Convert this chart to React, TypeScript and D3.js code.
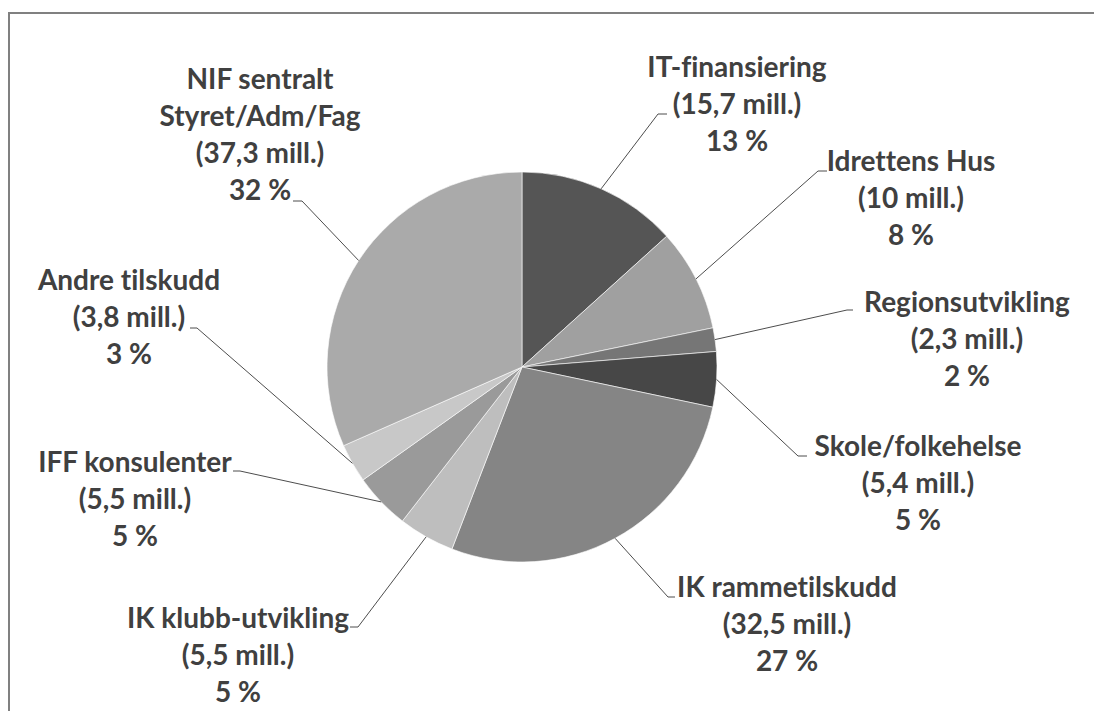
import React from "react";
import * as d3 from "d3";

// ---- data ----
const categories = [
  "IT-finansiering",
  "Idrettens Hus",
  "Regionsutvikling",
  "Skole/folkehelse",
  "IK rammetilskudd",
  "IK klubb-utvikling",
  "IFF konsulenter",
  "Andre tilskudd",
  "NIF sentralt Styret/Adm/Fag",
];
const nameLines = [
  ["IT-finansiering"],
  ["Idrettens Hus"],
  ["Regionsutvikling"],
  ["Skole/folkehelse"],
  ["IK rammetilskudd"],
  ["IK klubb-utvikling"],
  ["IFF konsulenter"],
  ["Andre tilskudd"],
  ["NIF sentralt", "Styret/Adm/Fag"],
];
const valuesMill = [15.7, 10, 2.3, 5.4, 32.5, 5.5, 5.5, 3.8, 37.3];
const valueLabels = ["15,7", "10", "2,3", "5,4", "32,5", "5,5", "5,5", "3,8", "37,3"];
const percentLabels = ["13 %", "8 %", "2 %", "5 %", "27 %", "5 %", "5 %", "3 %", "32 %"];

// ---- styling / layout ----
const sliceColors = ["#555555", "#a0a0a0", "#767676", "#474747", "#858585", "#bebebe", "#9a9a9a", "#c8c8c8", "#aaaaaa"];
// label text centre x, first baseline y
const labelPos: [number, number][] = [
  [737, 77],
  [911, 171],
  [967, 312],
  [918, 456],
  [787, 597],
  [238, 628],
  [135, 472],
  [129, 290],
  [260, 89],
];
// leader elbow point and end point
const leaderPts: [number, number, number, number][] = [
  [658, 114, 667, 114],
  [818, 171, 827, 171],
  [847, 310, 853, 310],
  [798, 456, 807, 456],
  [668, 597, 675, 597],
  [358, 627, 350, 627],
  [240, 471, 233, 471],
  [197, 328, 190, 328],
  [302, 201, 293, 201],
];

const W = 1094;
const H = 711;
const CX = 522;
const CY = 367;
const R = 195;
const LINE_H = 37;

export default function App() {
  const data = valuesMill.map((v, i) => ({ v, i }));
  const pie = d3.pie<{ v: number; i: number }>().sort(null).value((d) => d.v).startAngle(0).endAngle(2 * Math.PI);
  const arcs = pie(data);
  const arcGen = d3.arc<d3.PieArcDatum<{ v: number; i: number }>>().innerRadius(0).outerRadius(R);

  return (
    <svg
      width={W}
      height={H}
      style={{ position: "absolute", left: 0, top: 0, display: "block", background: "#fff" }}
    >
      <rect x={9} y={13} width={W + 20} height={H + 20} fill="#fff" stroke="#808080" strokeWidth={2} />
      <g transform={`translate(${CX},${CY})`}>
        {arcs.map((a) => (
          <path key={a.data.i} d={arcGen(a) || ""} fill={sliceColors[a.data.i]} stroke="#ffffff" strokeWidth={0.6} />
        ))}
      </g>
      {arcs.map((a) => {
        const mid = (a.startAngle + a.endAngle) / 2;
        const ex = CX + R * Math.sin(mid);
        const ey = CY - R * Math.cos(mid);
        const [bx, by, tx, ty] = leaderPts[a.data.i];
        return (
          <polyline
            key={"l" + a.data.i}
            points={`${ex},${ey} ${bx},${by} ${tx},${ty}`}
            fill="none"
            stroke="#4d4d4d"
            strokeWidth={1}
          />
        );
      })}
      {categories.map((c, i) => {
        const lines = [...nameLines[i], `(${valueLabels[i]} mill.)`, percentLabels[i]];
        const [x, y] = labelPos[i];
        return (
          <text
            key={c}
            x={x}
            y={y}
            textAnchor="middle"
            fontFamily="Lato, 'Open Sans', sans-serif"
            fontWeight={700}
            fontSize={28}
            fill="#404040"
            style={{ fontVariantLigatures: "none" }}
          >
            {lines.map((t, k) => (
              <tspan key={k} x={x} y={y + k * LINE_H}>
                {t}
              </tspan>
            ))}
          </text>
        );
      })}
    </svg>
  );
}
